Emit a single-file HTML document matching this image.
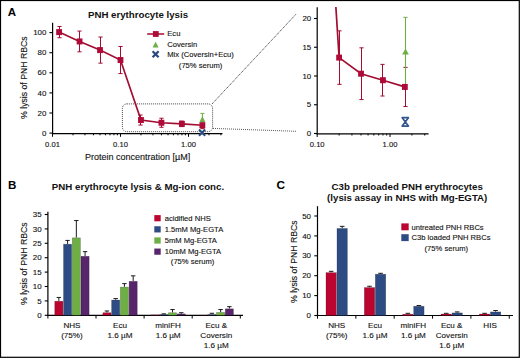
<!DOCTYPE html>
<html><head><meta charset="utf-8"><style>
html,body{margin:0;padding:0;background:#fff;}
svg{display:block;}
text{font-family:"Liberation Sans",sans-serif;}
</style></head><body>
<svg width="520" height="358" viewBox="0 0 520 358">
<rect x="0" y="0" width="520" height="358" fill="#fff"/>
<rect x="0.5" y="0.5" width="518.8" height="356.8" fill="none" stroke="#000" stroke-width="1.2"/>
<text x="7.70" y="16.30" font-size="11.5" text-anchor="start" font-weight="bold" fill="#000" >A</text>
<text x="138.00" y="17.80" font-size="9.7" text-anchor="middle" font-weight="bold" fill="#111" >PNH erythrocyte lysis</text>
<line x1="52.60" y1="22.80" x2="52.60" y2="134.20" stroke="#000" stroke-width="1.2" />
<line x1="52.00" y1="133.60" x2="222.50" y2="133.60" stroke="#000" stroke-width="1.2" />
<line x1="49.40" y1="133.10" x2="52.60" y2="133.10" stroke="#000" stroke-width="1.1" />
<text x="46.30" y="135.75" font-size="7.9" text-anchor="end" fill="#111" stroke="#111" stroke-width="0.12" >0</text>
<line x1="49.40" y1="113.00" x2="52.60" y2="113.00" stroke="#000" stroke-width="1.1" />
<text x="46.30" y="115.65" font-size="7.9" text-anchor="end" fill="#111" stroke="#111" stroke-width="0.12" >20</text>
<line x1="49.40" y1="92.90" x2="52.60" y2="92.90" stroke="#000" stroke-width="1.1" />
<text x="46.30" y="95.55" font-size="7.9" text-anchor="end" fill="#111" stroke="#111" stroke-width="0.12" >40</text>
<line x1="49.40" y1="72.80" x2="52.60" y2="72.80" stroke="#000" stroke-width="1.1" />
<text x="46.30" y="75.45" font-size="7.9" text-anchor="end" fill="#111" stroke="#111" stroke-width="0.12" >60</text>
<line x1="49.40" y1="52.70" x2="52.60" y2="52.70" stroke="#000" stroke-width="1.1" />
<text x="46.30" y="55.35" font-size="7.9" text-anchor="end" fill="#111" stroke="#111" stroke-width="0.12" >80</text>
<line x1="49.40" y1="32.60" x2="52.60" y2="32.60" stroke="#000" stroke-width="1.1" />
<text x="46.30" y="35.25" font-size="7.9" text-anchor="end" fill="#111" stroke="#111" stroke-width="0.12" >100</text>
<line x1="52.50" y1="133.60" x2="52.50" y2="136.80" stroke="#000" stroke-width="1.0" />
<line x1="72.97" y1="133.60" x2="72.97" y2="135.30" stroke="#000" stroke-width="1.0" />
<line x1="84.94" y1="133.60" x2="84.94" y2="135.30" stroke="#000" stroke-width="1.0" />
<line x1="93.44" y1="133.60" x2="93.44" y2="135.30" stroke="#000" stroke-width="1.0" />
<line x1="100.03" y1="133.60" x2="100.03" y2="135.30" stroke="#000" stroke-width="1.0" />
<line x1="105.41" y1="133.60" x2="105.41" y2="135.30" stroke="#000" stroke-width="1.0" />
<line x1="109.97" y1="133.60" x2="109.97" y2="135.30" stroke="#000" stroke-width="1.0" />
<line x1="113.91" y1="133.60" x2="113.91" y2="135.30" stroke="#000" stroke-width="1.0" />
<line x1="117.39" y1="133.60" x2="117.39" y2="135.30" stroke="#000" stroke-width="1.0" />
<line x1="120.50" y1="133.60" x2="120.50" y2="136.80" stroke="#000" stroke-width="1.0" />
<line x1="140.97" y1="133.60" x2="140.97" y2="135.30" stroke="#000" stroke-width="1.0" />
<line x1="152.94" y1="133.60" x2="152.94" y2="135.30" stroke="#000" stroke-width="1.0" />
<line x1="161.44" y1="133.60" x2="161.44" y2="135.30" stroke="#000" stroke-width="1.0" />
<line x1="168.03" y1="133.60" x2="168.03" y2="135.30" stroke="#000" stroke-width="1.0" />
<line x1="173.41" y1="133.60" x2="173.41" y2="135.30" stroke="#000" stroke-width="1.0" />
<line x1="177.97" y1="133.60" x2="177.97" y2="135.30" stroke="#000" stroke-width="1.0" />
<line x1="181.91" y1="133.60" x2="181.91" y2="135.30" stroke="#000" stroke-width="1.0" />
<line x1="185.39" y1="133.60" x2="185.39" y2="135.30" stroke="#000" stroke-width="1.0" />
<line x1="188.50" y1="133.60" x2="188.50" y2="136.80" stroke="#000" stroke-width="1.0" />
<line x1="208.97" y1="133.60" x2="208.97" y2="135.30" stroke="#000" stroke-width="1.0" />
<line x1="220.94" y1="133.60" x2="220.94" y2="135.30" stroke="#000" stroke-width="1.0" />
<text x="52.50" y="146.80" font-size="7.6" text-anchor="middle" fill="#111" stroke="#111" stroke-width="0.12" >0.01</text>
<text x="120.50" y="146.80" font-size="7.6" text-anchor="middle" fill="#111" stroke="#111" stroke-width="0.12" >0.10</text>
<text x="188.50" y="146.80" font-size="7.6" text-anchor="middle" fill="#111" stroke="#111" stroke-width="0.12" >1.00</text>
<text x="137.70" y="160.30" font-size="9.0" text-anchor="middle" fill="#111" stroke="#111" stroke-width="0.12" >Protein concentration [µM]</text>
<text transform="translate(27.1,77.65) rotate(-90)" font-size="8.7" text-anchor="middle" fill="#111" stroke="#111" stroke-width="0.12">% lysis of PNH RBCs</text>
<rect x="122.4" y="103.9" width="90.2" height="27.8" rx="4.5" fill="none" stroke="#333" stroke-width="0.9" stroke-dasharray="1 1"/>
<line x1="212.00" y1="104.00" x2="296.00" y2="14.20" stroke="#333" stroke-width="0.9" stroke-dasharray="1.2 0.8"/>
<line x1="213.00" y1="128.40" x2="296.00" y2="131.30" stroke="#444" stroke-width="0.9" stroke-dasharray="1 1"/>
<line x1="59.50" y1="26.47" x2="59.50" y2="37.73" stroke="#A20D32" stroke-width="1.0" />
<line x1="57.40" y1="26.47" x2="61.60" y2="26.47" stroke="#A20D32" stroke-width="1.0" />
<line x1="57.40" y1="37.73" x2="61.60" y2="37.73" stroke="#A20D32" stroke-width="1.0" />
<line x1="79.50" y1="31.09" x2="79.50" y2="51.80" stroke="#A20D32" stroke-width="1.0" />
<line x1="77.40" y1="31.09" x2="81.60" y2="31.09" stroke="#A20D32" stroke-width="1.0" />
<line x1="77.40" y1="51.80" x2="81.60" y2="51.80" stroke="#A20D32" stroke-width="1.0" />
<line x1="100.50" y1="37.02" x2="100.50" y2="63.15" stroke="#A20D32" stroke-width="1.0" />
<line x1="98.40" y1="37.02" x2="102.60" y2="37.02" stroke="#A20D32" stroke-width="1.0" />
<line x1="98.40" y1="63.15" x2="102.60" y2="63.15" stroke="#A20D32" stroke-width="1.0" />
<line x1="120.50" y1="46.47" x2="120.50" y2="73.60" stroke="#A20D32" stroke-width="1.0" />
<line x1="118.40" y1="46.47" x2="122.60" y2="46.47" stroke="#A20D32" stroke-width="1.0" />
<line x1="118.40" y1="73.60" x2="122.60" y2="73.60" stroke="#A20D32" stroke-width="1.0" />
<line x1="140.50" y1="115.01" x2="140.50" y2="125.06" stroke="#A20D32" stroke-width="1.0" />
<line x1="138.40" y1="115.01" x2="142.60" y2="115.01" stroke="#A20D32" stroke-width="1.0" />
<line x1="138.40" y1="125.06" x2="142.60" y2="125.06" stroke="#A20D32" stroke-width="1.0" />
<line x1="161.50" y1="118.23" x2="161.50" y2="127.27" stroke="#A20D32" stroke-width="1.0" />
<line x1="159.40" y1="118.23" x2="163.60" y2="118.23" stroke="#A20D32" stroke-width="1.0" />
<line x1="159.40" y1="127.27" x2="163.60" y2="127.27" stroke="#A20D32" stroke-width="1.0" />
<line x1="181.50" y1="121.09" x2="181.50" y2="126.62" stroke="#A20D32" stroke-width="1.0" />
<line x1="179.40" y1="121.09" x2="183.60" y2="121.09" stroke="#A20D32" stroke-width="1.0" />
<line x1="179.40" y1="126.62" x2="183.60" y2="126.62" stroke="#A20D32" stroke-width="1.0" />
<line x1="202.50" y1="121.84" x2="202.50" y2="128.68" stroke="#A20D32" stroke-width="1.0" />
<line x1="200.40" y1="121.84" x2="204.60" y2="121.84" stroke="#A20D32" stroke-width="1.0" />
<line x1="200.40" y1="128.68" x2="204.60" y2="128.68" stroke="#A20D32" stroke-width="1.0" />
<line x1="202.38" y1="113.40" x2="202.38" y2="124.86" stroke="#6DAE45" stroke-width="1.0" />
<line x1="200.38" y1="113.40" x2="204.38" y2="113.40" stroke="#6DAE45" stroke-width="1.0" />
<polygon points="199.38,122.2 205.38,122.2 202.38,116.1" fill="#6DAE45"/>
<polyline points="59.09,32.10 79.56,41.44 100.03,50.09 120.50,60.04 140.97,120.03 161.44,122.75 181.91,123.85 202.38,125.26" fill="none" stroke="#A20D32" stroke-width="1.7"/>
<rect x="56.19" y="29.10" width="5.8" height="6.0" fill="#AE0B38"/>
<rect x="76.66" y="38.44" width="5.8" height="6.0" fill="#AE0B38"/>
<rect x="97.13" y="47.09" width="5.8" height="6.0" fill="#AE0B38"/>
<rect x="117.60" y="57.04" width="5.8" height="6.0" fill="#AE0B38"/>
<rect x="138.07" y="117.03" width="5.8" height="6.0" fill="#AE0B38"/>
<rect x="158.54" y="119.75" width="5.8" height="6.0" fill="#AE0B38"/>
<rect x="179.01" y="120.85" width="5.8" height="6.0" fill="#AE0B38"/>
<rect x="199.48" y="122.26" width="5.8" height="6.0" fill="#AE0B38"/>
<path d="M198.98,129.50 L205.18,135.70 M205.18,129.50 L198.98,135.70" stroke="#2B4A80" stroke-width="2.0" stroke-linecap="butt"/>
<line x1="147.20" y1="34.00" x2="164.20" y2="34.00" stroke="#A20D32" stroke-width="1.5" />
<rect x="152.90" y="31.10" width="5.80" height="5.80" fill="#AE0B38" />
<text x="167.30" y="36.30" font-size="7.6" text-anchor="start" fill="#111" stroke="#111" stroke-width="0.12" >Ecu</text>
<polygon points="152.6,47.4 158.6,47.4 155.6,41.8" fill="#6DAE45"/>
<text x="167.30" y="46.50" font-size="7.6" text-anchor="start" fill="#111" stroke="#111" stroke-width="0.12" >Coversin</text>
<path d="M152.60,51.20 L158.60,57.20 M158.60,51.20 L152.60,57.20" stroke="#2B4A80" stroke-width="2.3" stroke-linecap="butt"/>
<text x="167.30" y="56.60" font-size="7.6" text-anchor="start" fill="#111" stroke="#111" stroke-width="0.12" >Mix (Coversin+Ecu)</text>
<text x="200.60" y="68.40" font-size="7.6" text-anchor="middle" fill="#111" stroke="#111" stroke-width="0.12" >(75% serum)</text>
<line x1="317.20" y1="7.20" x2="317.20" y2="134.20" stroke="#000" stroke-width="1.2" />
<line x1="316.60" y1="133.80" x2="428.60" y2="133.80" stroke="#000" stroke-width="1.2" />
<line x1="314.00" y1="133.50" x2="317.20" y2="133.50" stroke="#000" stroke-width="1.1" />
<text x="311.20" y="136.15" font-size="7.9" text-anchor="end" fill="#111" stroke="#111" stroke-width="0.12" >0</text>
<line x1="314.00" y1="104.75" x2="317.20" y2="104.75" stroke="#000" stroke-width="1.1" />
<text x="311.20" y="107.40" font-size="7.9" text-anchor="end" fill="#111" stroke="#111" stroke-width="0.12" >5</text>
<line x1="314.00" y1="76.00" x2="317.20" y2="76.00" stroke="#000" stroke-width="1.1" />
<text x="311.20" y="78.65" font-size="7.9" text-anchor="end" fill="#111" stroke="#111" stroke-width="0.12" >10</text>
<line x1="314.00" y1="47.25" x2="317.20" y2="47.25" stroke="#000" stroke-width="1.1" />
<text x="311.20" y="49.90" font-size="7.9" text-anchor="end" fill="#111" stroke="#111" stroke-width="0.12" >15</text>
<line x1="314.00" y1="18.50" x2="317.20" y2="18.50" stroke="#000" stroke-width="1.1" />
<text x="311.20" y="21.15" font-size="7.9" text-anchor="end" fill="#111" stroke="#111" stroke-width="0.12" >20</text>
<line x1="317.20" y1="133.80" x2="317.20" y2="137.00" stroke="#000" stroke-width="1.0" />
<line x1="339.11" y1="133.80" x2="339.11" y2="135.50" stroke="#000" stroke-width="1.0" />
<line x1="351.93" y1="133.80" x2="351.93" y2="135.50" stroke="#000" stroke-width="1.0" />
<line x1="361.03" y1="133.80" x2="361.03" y2="135.50" stroke="#000" stroke-width="1.0" />
<line x1="368.09" y1="133.80" x2="368.09" y2="135.50" stroke="#000" stroke-width="1.0" />
<line x1="373.85" y1="133.80" x2="373.85" y2="135.50" stroke="#000" stroke-width="1.0" />
<line x1="378.72" y1="133.80" x2="378.72" y2="135.50" stroke="#000" stroke-width="1.0" />
<line x1="382.94" y1="133.80" x2="382.94" y2="135.50" stroke="#000" stroke-width="1.0" />
<line x1="386.67" y1="133.80" x2="386.67" y2="135.50" stroke="#000" stroke-width="1.0" />
<line x1="390.00" y1="133.80" x2="390.00" y2="137.00" stroke="#000" stroke-width="1.0" />
<line x1="411.91" y1="133.80" x2="411.91" y2="135.50" stroke="#000" stroke-width="1.0" />
<line x1="424.73" y1="133.80" x2="424.73" y2="135.50" stroke="#000" stroke-width="1.0" />
<text x="317.20" y="146.90" font-size="7.6" text-anchor="middle" fill="#111" stroke="#111" stroke-width="0.12" >0.10</text>
<text x="390.00" y="146.90" font-size="7.6" text-anchor="middle" fill="#111" stroke="#111" stroke-width="0.12" >1.00</text>
<defs><clipPath id="ic"><rect x="317" y="7" width="120" height="130"/></clipPath></defs>
<line x1="339.50" y1="30.86" x2="339.50" y2="84.34" stroke="#A20D32" stroke-width="1.0" />
<line x1="337.40" y1="30.86" x2="341.60" y2="30.86" stroke="#A20D32" stroke-width="1.0" />
<line x1="337.40" y1="84.34" x2="341.60" y2="84.34" stroke="#A20D32" stroke-width="1.0" />
<line x1="361.50" y1="47.83" x2="361.50" y2="99.57" stroke="#A20D32" stroke-width="1.0" />
<line x1="359.40" y1="47.83" x2="363.60" y2="47.83" stroke="#A20D32" stroke-width="1.0" />
<line x1="359.40" y1="99.57" x2="363.60" y2="99.57" stroke="#A20D32" stroke-width="1.0" />
<line x1="382.50" y1="64.39" x2="382.50" y2="96.01" stroke="#A20D32" stroke-width="1.0" />
<line x1="380.40" y1="64.39" x2="384.60" y2="64.39" stroke="#A20D32" stroke-width="1.0" />
<line x1="380.40" y1="96.01" x2="384.60" y2="96.01" stroke="#A20D32" stroke-width="1.0" />
<line x1="405.50" y1="67.38" x2="405.50" y2="106.48" stroke="#A20D32" stroke-width="1.0" />
<line x1="403.40" y1="67.38" x2="407.60" y2="67.38" stroke="#A20D32" stroke-width="1.0" />
<line x1="403.40" y1="106.48" x2="407.60" y2="106.48" stroke="#A20D32" stroke-width="1.0" />
<line x1="405.50" y1="17.35" x2="405.50" y2="86.35" stroke="#6DAE45" stroke-width="1.1" />
<line x1="403.40" y1="17.35" x2="407.60" y2="17.35" stroke="#6DAE45" stroke-width="1.0" />
<polygon points="402.20,54.6 408.80,54.6 405.50,48.6" fill="#6DAE45"/>
<polyline points="317.20,-284.53 339.11,57.60 361.03,73.70 382.94,80.20 404.86,86.93" fill="none" stroke="#A20D32" stroke-width="1.7" clip-path="url(#ic)"/>
<rect x="336.21" y="54.60" width="5.8" height="6.0" fill="#AE0B38"/>
<rect x="358.13" y="70.70" width="5.8" height="6.0" fill="#AE0B38"/>
<rect x="380.04" y="77.20" width="5.8" height="6.0" fill="#AE0B38"/>
<rect x="401.96" y="83.93" width="5.8" height="6.0" fill="#AE0B38"/>
<path d="M402.20,117.70 L408.40,117.70 L402.20,126.10 L408.40,126.10 Z" fill="none" stroke="#34568F" stroke-width="1.7" stroke-linejoin="round"/>
<text x="8.00" y="188.60" font-size="11.6" text-anchor="start" font-weight="bold" fill="#000" >B</text>
<text x="138.00" y="189.80" font-size="9.7" text-anchor="middle" font-weight="bold" fill="#111" >PNH erythrocyte lysis &amp; Mg-ion conc.</text>
<line x1="47.90" y1="211.80" x2="47.90" y2="315.90" stroke="#000" stroke-width="1.2" />
<line x1="47.30" y1="315.30" x2="243.00" y2="315.30" stroke="#000" stroke-width="1.2" />
<line x1="44.70" y1="315.30" x2="47.90" y2="315.30" stroke="#000" stroke-width="1.1" />
<text x="41.60" y="317.95" font-size="7.9" text-anchor="end" fill="#111" stroke="#111" stroke-width="0.12" >0</text>
<line x1="44.70" y1="300.90" x2="47.90" y2="300.90" stroke="#000" stroke-width="1.1" />
<text x="41.60" y="303.55" font-size="7.9" text-anchor="end" fill="#111" stroke="#111" stroke-width="0.12" >5</text>
<line x1="44.70" y1="286.50" x2="47.90" y2="286.50" stroke="#000" stroke-width="1.1" />
<text x="41.60" y="289.15" font-size="7.9" text-anchor="end" fill="#111" stroke="#111" stroke-width="0.12" >10</text>
<line x1="44.70" y1="272.10" x2="47.90" y2="272.10" stroke="#000" stroke-width="1.1" />
<text x="41.60" y="274.75" font-size="7.9" text-anchor="end" fill="#111" stroke="#111" stroke-width="0.12" >15</text>
<line x1="44.70" y1="257.70" x2="47.90" y2="257.70" stroke="#000" stroke-width="1.1" />
<text x="41.60" y="260.35" font-size="7.9" text-anchor="end" fill="#111" stroke="#111" stroke-width="0.12" >20</text>
<line x1="44.70" y1="243.30" x2="47.90" y2="243.30" stroke="#000" stroke-width="1.1" />
<text x="41.60" y="245.95" font-size="7.9" text-anchor="end" fill="#111" stroke="#111" stroke-width="0.12" >25</text>
<line x1="44.70" y1="228.90" x2="47.90" y2="228.90" stroke="#000" stroke-width="1.1" />
<text x="41.60" y="231.55" font-size="7.9" text-anchor="end" fill="#111" stroke="#111" stroke-width="0.12" >30</text>
<line x1="44.70" y1="214.50" x2="47.90" y2="214.50" stroke="#000" stroke-width="1.1" />
<text x="41.60" y="217.15" font-size="7.9" text-anchor="end" fill="#111" stroke="#111" stroke-width="0.12" >35</text>
<line x1="47.90" y1="315.30" x2="47.90" y2="318.50" stroke="#000" stroke-width="1.0" />
<line x1="96.00" y1="315.30" x2="96.00" y2="318.50" stroke="#000" stroke-width="1.0" />
<line x1="144.10" y1="315.30" x2="144.10" y2="318.50" stroke="#000" stroke-width="1.0" />
<line x1="192.20" y1="315.30" x2="192.20" y2="318.50" stroke="#000" stroke-width="1.0" />
<line x1="240.30" y1="315.30" x2="240.30" y2="318.50" stroke="#000" stroke-width="1.0" />
<text transform="translate(27.0,263.7) rotate(-90)" font-size="8.7" text-anchor="middle" fill="#111" stroke="#111" stroke-width="0.12">% lysis of PNH RBCs</text>
<rect x="54.75" y="301.20" width="8.15" height="14.10" fill="#BC0430" stroke="#000" stroke-opacity="0.3" stroke-width="0.6"/>
<line x1="58.83" y1="297.44" x2="58.83" y2="300.90" stroke="#1a1a1a" stroke-width="1.0" />
<line x1="56.62" y1="297.44" x2="61.03" y2="297.44" stroke="#1a1a1a" stroke-width="1.0" />
<rect x="63.50" y="244.18" width="8.15" height="71.12" fill="#2D4C84" stroke="#000" stroke-opacity="0.3" stroke-width="0.6"/>
<line x1="67.58" y1="240.42" x2="67.58" y2="243.88" stroke="#1a1a1a" stroke-width="1.0" />
<line x1="65.38" y1="240.42" x2="69.78" y2="240.42" stroke="#1a1a1a" stroke-width="1.0" />
<rect x="72.25" y="237.84" width="8.15" height="77.46" fill="#6DAE45" stroke="#000" stroke-opacity="0.3" stroke-width="0.6"/>
<line x1="76.33" y1="220.55" x2="76.33" y2="237.54" stroke="#1a1a1a" stroke-width="1.0" />
<line x1="74.12" y1="220.55" x2="78.53" y2="220.55" stroke="#1a1a1a" stroke-width="1.0" />
<rect x="81.00" y="256.27" width="8.15" height="59.03" fill="#58246C" stroke="#000" stroke-opacity="0.3" stroke-width="0.6"/>
<line x1="85.08" y1="251.65" x2="85.08" y2="255.97" stroke="#1a1a1a" stroke-width="1.0" />
<line x1="82.88" y1="251.65" x2="87.28" y2="251.65" stroke="#1a1a1a" stroke-width="1.0" />
<rect x="102.85" y="312.72" width="8.15" height="2.58" fill="#BC0430" stroke="#000" stroke-opacity="0.3" stroke-width="0.6"/>
<line x1="106.92" y1="310.98" x2="106.92" y2="312.42" stroke="#1a1a1a" stroke-width="1.0" />
<line x1="104.72" y1="310.98" x2="109.12" y2="310.98" stroke="#1a1a1a" stroke-width="1.0" />
<rect x="111.60" y="300.05" width="8.15" height="15.25" fill="#2D4C84" stroke="#000" stroke-opacity="0.3" stroke-width="0.6"/>
<line x1="115.67" y1="298.60" x2="115.67" y2="299.75" stroke="#1a1a1a" stroke-width="1.0" />
<line x1="113.47" y1="298.60" x2="117.88" y2="298.60" stroke="#1a1a1a" stroke-width="1.0" />
<rect x="120.35" y="287.09" width="8.15" height="28.21" fill="#6DAE45" stroke="#000" stroke-opacity="0.3" stroke-width="0.6"/>
<line x1="124.42" y1="283.62" x2="124.42" y2="286.79" stroke="#1a1a1a" stroke-width="1.0" />
<line x1="122.22" y1="283.62" x2="126.62" y2="283.62" stroke="#1a1a1a" stroke-width="1.0" />
<rect x="129.10" y="281.33" width="8.15" height="33.97" fill="#58246C" stroke="#000" stroke-opacity="0.3" stroke-width="0.6"/>
<line x1="133.18" y1="275.84" x2="133.18" y2="281.03" stroke="#1a1a1a" stroke-width="1.0" />
<line x1="130.98" y1="275.84" x2="135.38" y2="275.84" stroke="#1a1a1a" stroke-width="1.0" />
<rect x="150.95" y="314.88" width="8.15" height="0.42" fill="#BC0430" stroke="#000" stroke-opacity="0.3" stroke-width="0.6"/>
<rect x="159.70" y="314.59" width="8.15" height="0.71" fill="#2D4C84" stroke="#000" stroke-opacity="0.3" stroke-width="0.6"/>
<line x1="163.78" y1="313.86" x2="163.78" y2="314.29" stroke="#1a1a1a" stroke-width="1.0" />
<line x1="161.58" y1="313.86" x2="165.97" y2="313.86" stroke="#1a1a1a" stroke-width="1.0" />
<rect x="168.45" y="312.72" width="8.15" height="2.58" fill="#6DAE45" stroke="#000" stroke-opacity="0.3" stroke-width="0.6"/>
<line x1="172.53" y1="309.54" x2="172.53" y2="312.42" stroke="#1a1a1a" stroke-width="1.0" />
<line x1="170.33" y1="309.54" x2="174.72" y2="309.54" stroke="#1a1a1a" stroke-width="1.0" />
<rect x="177.20" y="313.87" width="8.15" height="1.43" fill="#58246C" stroke="#000" stroke-opacity="0.3" stroke-width="0.6"/>
<line x1="181.28" y1="312.71" x2="181.28" y2="313.57" stroke="#1a1a1a" stroke-width="1.0" />
<line x1="179.08" y1="312.71" x2="183.47" y2="312.71" stroke="#1a1a1a" stroke-width="1.0" />
<rect x="199.05" y="315.17" width="8.15" height="0.13" fill="#BC0430" stroke="#000" stroke-opacity="0.3" stroke-width="0.6"/>
<rect x="207.80" y="314.59" width="8.15" height="0.71" fill="#2D4C84" stroke="#000" stroke-opacity="0.3" stroke-width="0.6"/>
<line x1="211.88" y1="313.28" x2="211.88" y2="314.29" stroke="#1a1a1a" stroke-width="1.0" />
<line x1="209.68" y1="313.28" x2="214.08" y2="313.28" stroke="#1a1a1a" stroke-width="1.0" />
<rect x="216.55" y="312.43" width="8.15" height="2.87" fill="#6DAE45" stroke="#000" stroke-opacity="0.3" stroke-width="0.6"/>
<line x1="220.63" y1="309.54" x2="220.63" y2="312.13" stroke="#1a1a1a" stroke-width="1.0" />
<line x1="218.43" y1="309.54" x2="222.83" y2="309.54" stroke="#1a1a1a" stroke-width="1.0" />
<rect x="225.30" y="308.83" width="8.15" height="6.47" fill="#58246C" stroke="#000" stroke-opacity="0.3" stroke-width="0.6"/>
<line x1="229.38" y1="306.66" x2="229.38" y2="308.53" stroke="#1a1a1a" stroke-width="1.0" />
<line x1="227.18" y1="306.66" x2="231.58" y2="306.66" stroke="#1a1a1a" stroke-width="1.0" />
<text x="71.95" y="328.40" font-size="8.1" text-anchor="middle" fill="#111" stroke="#111" stroke-width="0.12" >NHS</text>
<text x="71.95" y="338.10" font-size="8.1" text-anchor="middle" fill="#111" stroke="#111" stroke-width="0.12" >(75%)</text>
<text x="120.05" y="328.40" font-size="8.1" text-anchor="middle" fill="#111" stroke="#111" stroke-width="0.12" >Ecu</text>
<text x="120.05" y="338.10" font-size="8.1" text-anchor="middle" fill="#111" stroke="#111" stroke-width="0.12" >1.6 µM</text>
<text x="168.15" y="328.40" font-size="8.1" text-anchor="middle" fill="#111" stroke="#111" stroke-width="0.12" >miniFH</text>
<text x="168.15" y="338.10" font-size="8.1" text-anchor="middle" fill="#111" stroke="#111" stroke-width="0.12" >1.6 µM</text>
<text x="216.25" y="328.40" font-size="8.1" text-anchor="middle" fill="#111" stroke="#111" stroke-width="0.12" >Ecu &amp;</text>
<text x="216.25" y="338.10" font-size="8.1" text-anchor="middle" fill="#111" stroke="#111" stroke-width="0.12" >Coversin</text>
<text x="216.25" y="347.80" font-size="8.1" text-anchor="middle" fill="#111" stroke="#111" stroke-width="0.12" >1.6 µM</text>
<rect x="154.30" y="215.10" width="6.40" height="6.20" fill="#BC0430" />
<text x="164.70" y="220.90" font-size="7.6" text-anchor="start" fill="#111" stroke="#111" stroke-width="0.12" >acidified NHS</text>
<rect x="154.30" y="226.25" width="6.40" height="6.20" fill="#2D4C84" />
<text x="164.70" y="232.05" font-size="7.6" text-anchor="start" fill="#111" stroke="#111" stroke-width="0.12" >1.5mM Mg-EGTA</text>
<rect x="154.30" y="237.40" width="6.40" height="6.20" fill="#6DAE45" />
<text x="164.70" y="243.20" font-size="7.6" text-anchor="start" fill="#111" stroke="#111" stroke-width="0.12" >5mM Mg-EGTA</text>
<rect x="154.30" y="248.55" width="6.40" height="6.20" fill="#58246C" />
<text x="164.70" y="254.35" font-size="7.6" text-anchor="start" fill="#111" stroke="#111" stroke-width="0.12" >10mM Mg-EGTA</text>
<text x="192.60" y="264.00" font-size="7.6" text-anchor="middle" fill="#111" stroke="#111" stroke-width="0.12" >(75% serum)</text>
<text x="276.60" y="188.60" font-size="11.8" text-anchor="start" font-weight="bold" fill="#000" >C</text>
<text x="407.20" y="189.60" font-size="9.7" text-anchor="middle" font-weight="bold" fill="#111" >C3b preloaded PNH erythrocytes</text>
<text x="407.20" y="201.20" font-size="9.7" text-anchor="middle" font-weight="bold" fill="#111" >(lysis assay in NHS with Mg-EGTA)</text>
<line x1="317.50" y1="206.20" x2="317.50" y2="316.10" stroke="#000" stroke-width="1.2" />
<line x1="316.90" y1="315.50" x2="513.00" y2="315.50" stroke="#000" stroke-width="1.2" />
<line x1="314.30" y1="315.50" x2="317.50" y2="315.50" stroke="#000" stroke-width="1.1" />
<text x="311.00" y="318.15" font-size="7.9" text-anchor="end" fill="#111" stroke="#111" stroke-width="0.12" >0</text>
<line x1="314.30" y1="295.60" x2="317.50" y2="295.60" stroke="#000" stroke-width="1.1" />
<text x="311.00" y="298.25" font-size="7.9" text-anchor="end" fill="#111" stroke="#111" stroke-width="0.12" >10</text>
<line x1="314.30" y1="275.70" x2="317.50" y2="275.70" stroke="#000" stroke-width="1.1" />
<text x="311.00" y="278.35" font-size="7.9" text-anchor="end" fill="#111" stroke="#111" stroke-width="0.12" >20</text>
<line x1="314.30" y1="255.80" x2="317.50" y2="255.80" stroke="#000" stroke-width="1.1" />
<text x="311.00" y="258.45" font-size="7.9" text-anchor="end" fill="#111" stroke="#111" stroke-width="0.12" >30</text>
<line x1="314.30" y1="235.90" x2="317.50" y2="235.90" stroke="#000" stroke-width="1.1" />
<text x="311.00" y="238.55" font-size="7.9" text-anchor="end" fill="#111" stroke="#111" stroke-width="0.12" >40</text>
<line x1="314.30" y1="216.00" x2="317.50" y2="216.00" stroke="#000" stroke-width="1.1" />
<text x="311.00" y="218.65" font-size="7.9" text-anchor="end" fill="#111" stroke="#111" stroke-width="0.12" >50</text>
<line x1="317.50" y1="315.50" x2="317.50" y2="318.70" stroke="#000" stroke-width="1.0" />
<line x1="355.85" y1="315.50" x2="355.85" y2="318.70" stroke="#000" stroke-width="1.0" />
<line x1="394.20" y1="315.50" x2="394.20" y2="318.70" stroke="#000" stroke-width="1.0" />
<line x1="432.55" y1="315.50" x2="432.55" y2="318.70" stroke="#000" stroke-width="1.0" />
<line x1="470.90" y1="315.50" x2="470.90" y2="318.70" stroke="#000" stroke-width="1.0" />
<line x1="509.25" y1="315.50" x2="509.25" y2="318.70" stroke="#000" stroke-width="1.0" />
<text transform="translate(296.7,261.7) rotate(-90)" font-size="8.7" text-anchor="middle" fill="#111" stroke="#111" stroke-width="0.12">% lysis of PNH RBCs</text>
<rect x="325.98" y="272.62" width="10.40" height="42.88" fill="#BC0430" stroke="#000" stroke-opacity="0.3" stroke-width="0.6"/>
<line x1="331.18" y1="271.32" x2="331.18" y2="272.32" stroke="#1a1a1a" stroke-width="1.0" />
<line x1="328.88" y1="271.32" x2="333.48" y2="271.32" stroke="#1a1a1a" stroke-width="1.0" />
<rect x="336.98" y="228.44" width="10.40" height="87.06" fill="#2D4C84" stroke="#000" stroke-opacity="0.3" stroke-width="0.6"/>
<line x1="342.18" y1="226.35" x2="342.18" y2="228.14" stroke="#1a1a1a" stroke-width="1.0" />
<line x1="339.88" y1="226.35" x2="344.48" y2="226.35" stroke="#1a1a1a" stroke-width="1.0" />
<rect x="364.33" y="287.54" width="10.40" height="27.96" fill="#BC0430" stroke="#000" stroke-opacity="0.3" stroke-width="0.6"/>
<line x1="369.53" y1="286.25" x2="369.53" y2="287.24" stroke="#1a1a1a" stroke-width="1.0" />
<line x1="367.23" y1="286.25" x2="371.83" y2="286.25" stroke="#1a1a1a" stroke-width="1.0" />
<rect x="375.33" y="274.21" width="10.40" height="41.29" fill="#2D4C84" stroke="#000" stroke-opacity="0.3" stroke-width="0.6"/>
<line x1="380.53" y1="273.31" x2="380.53" y2="273.91" stroke="#1a1a1a" stroke-width="1.0" />
<line x1="378.23" y1="273.31" x2="382.83" y2="273.31" stroke="#1a1a1a" stroke-width="1.0" />
<rect x="402.68" y="314.21" width="10.40" height="1.29" fill="#BC0430" stroke="#000" stroke-opacity="0.3" stroke-width="0.6"/>
<line x1="407.88" y1="313.31" x2="407.88" y2="313.91" stroke="#1a1a1a" stroke-width="1.0" />
<line x1="405.57" y1="313.31" x2="410.18" y2="313.31" stroke="#1a1a1a" stroke-width="1.0" />
<rect x="413.68" y="306.25" width="10.40" height="9.25" fill="#2D4C84" stroke="#000" stroke-opacity="0.3" stroke-width="0.6"/>
<line x1="418.88" y1="305.55" x2="418.88" y2="305.95" stroke="#1a1a1a" stroke-width="1.0" />
<line x1="416.57" y1="305.55" x2="421.18" y2="305.55" stroke="#1a1a1a" stroke-width="1.0" />
<rect x="441.03" y="314.01" width="10.40" height="1.49" fill="#BC0430" stroke="#000" stroke-opacity="0.3" stroke-width="0.6"/>
<line x1="446.23" y1="313.31" x2="446.23" y2="313.71" stroke="#1a1a1a" stroke-width="1.0" />
<line x1="443.93" y1="313.31" x2="448.53" y2="313.31" stroke="#1a1a1a" stroke-width="1.0" />
<rect x="452.03" y="312.91" width="10.40" height="2.59" fill="#2D4C84" stroke="#000" stroke-opacity="0.3" stroke-width="0.6"/>
<line x1="457.23" y1="311.92" x2="457.23" y2="312.61" stroke="#1a1a1a" stroke-width="1.0" />
<line x1="454.93" y1="311.92" x2="459.53" y2="311.92" stroke="#1a1a1a" stroke-width="1.0" />
<rect x="479.38" y="314.01" width="10.40" height="1.49" fill="#BC0430" stroke="#000" stroke-opacity="0.3" stroke-width="0.6"/>
<line x1="484.57" y1="313.31" x2="484.57" y2="313.71" stroke="#1a1a1a" stroke-width="1.0" />
<line x1="482.27" y1="313.31" x2="486.88" y2="313.31" stroke="#1a1a1a" stroke-width="1.0" />
<rect x="490.38" y="311.92" width="10.40" height="3.58" fill="#2D4C84" stroke="#000" stroke-opacity="0.3" stroke-width="0.6"/>
<line x1="495.57" y1="310.52" x2="495.57" y2="311.62" stroke="#1a1a1a" stroke-width="1.0" />
<line x1="493.27" y1="310.52" x2="497.88" y2="310.52" stroke="#1a1a1a" stroke-width="1.0" />
<text x="336.68" y="328.40" font-size="8.1" text-anchor="middle" fill="#111" stroke="#111" stroke-width="0.12" >NHS</text>
<text x="336.68" y="338.10" font-size="8.1" text-anchor="middle" fill="#111" stroke="#111" stroke-width="0.12" >(75%)</text>
<text x="375.03" y="328.40" font-size="8.1" text-anchor="middle" fill="#111" stroke="#111" stroke-width="0.12" >Ecu</text>
<text x="375.03" y="338.10" font-size="8.1" text-anchor="middle" fill="#111" stroke="#111" stroke-width="0.12" >1.6 µM</text>
<text x="413.38" y="328.40" font-size="8.1" text-anchor="middle" fill="#111" stroke="#111" stroke-width="0.12" >miniFH</text>
<text x="413.38" y="338.10" font-size="8.1" text-anchor="middle" fill="#111" stroke="#111" stroke-width="0.12" >1.6 µM</text>
<text x="451.73" y="328.40" font-size="8.1" text-anchor="middle" fill="#111" stroke="#111" stroke-width="0.12" >Ecu &amp;</text>
<text x="451.73" y="338.10" font-size="8.1" text-anchor="middle" fill="#111" stroke="#111" stroke-width="0.12" >Coversin</text>
<text x="451.73" y="347.80" font-size="8.1" text-anchor="middle" fill="#111" stroke="#111" stroke-width="0.12" >1.6 µM</text>
<text x="490.07" y="328.40" font-size="8.1" text-anchor="middle" fill="#111" stroke="#111" stroke-width="0.12" >HIS</text>
<rect x="401.30" y="223.40" width="7.40" height="6.90" fill="#BC0430" />
<text x="411.50" y="229.50" font-size="7.6" text-anchor="start" fill="#111" stroke="#111" stroke-width="0.12" >untreated PNH RBCs</text>
<rect x="401.30" y="234.20" width="7.40" height="6.90" fill="#2D4C84" />
<text x="411.50" y="240.30" font-size="7.6" text-anchor="start" fill="#111" stroke="#111" stroke-width="0.12" >C3b loaded PNH RBCs</text>
<text x="446.30" y="251.10" font-size="7.6" text-anchor="middle" fill="#111" stroke="#111" stroke-width="0.12" >(75% serum)</text>
</svg></body></html>
